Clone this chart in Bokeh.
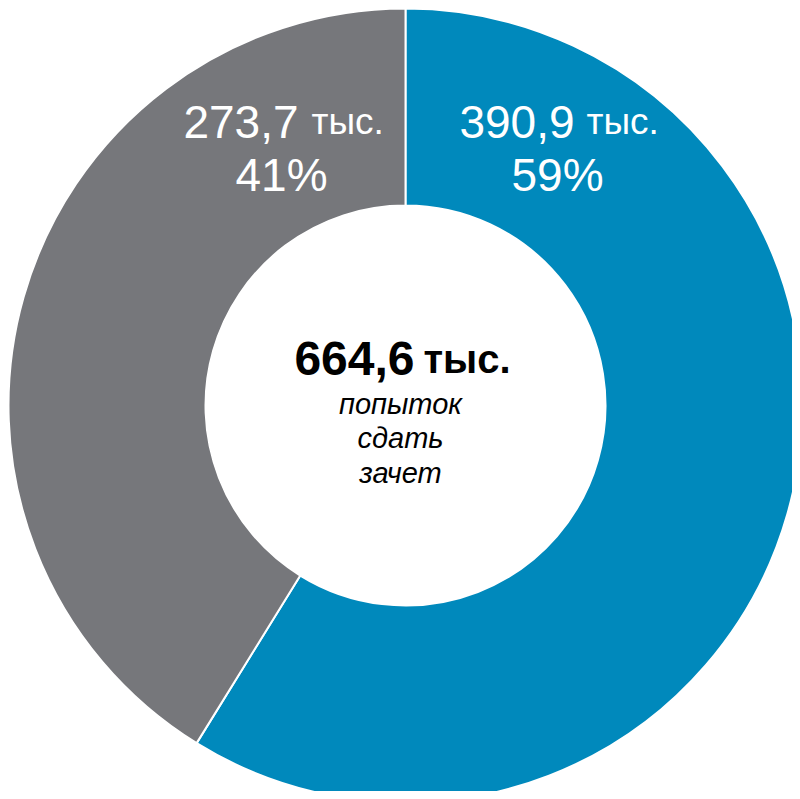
import math
from bokeh.plotting import figure
from bokeh.models import ColumnDataSource
from bokeh.embed import file_html
from bokeh.resources import INLINE
from bokeh.core.properties import value

# ---- data ----
categories = ["Сдали", "Не сдали"]
values = [390.9, 273.7]
value_labels = ["390,9", "273,7"]
percent_labels = ["59%", "41%"]
unit_label = "тыс."
total_label = "664,6"
center_lines = ["попыток", "сдать", "зачет"]
colors = ["#0089BC", "#76777B"]

W, H = 792, 791
p = figure(width=W, height=H, x_range=(0, W), y_range=(0, H),
           output_backend="svg", toolbar_location=None, min_border=0)
p.axis.visible = False
p.grid.visible = False
p.outline_line_color = None
p.background_fill_color = "white"
p.border_fill_color = "white"

cx, cy = 405, 386
total = sum(values)
starts, ends = [], []
cum = 0.0
for v in values:
    ends.append(math.pi / 2 - cum / total * 2 * math.pi)
    cum += v
    starts.append(math.pi / 2 - cum / total * 2 * math.pi)

src = ColumnDataSource(dict(cat=categories, val=values, start=starts, end=ends, color=colors))
p.annular_wedge(x=cx, y=cy, inner_radius=200, outer_radius=397,
                start_angle="start", end_angle="end", fill_color="color",
                line_color="white", line_width=2, source=src)

font = value("Liberation Sans")
# slice labels: number, unit, percent
num_x = [574, 298]
unit_x = [586, 311]
pct_x = [557, 281]
base1, base2 = 670, 617
p.text(x=num_x, y=[base1] * 2, text=value_labels, text_align="right",
       text_baseline="alphabetic", text_color="white", text_font=font,
       text_font_size="46px")
p.text(x=unit_x, y=[base1] * 2, text=[unit_label] * 2, text_align="left",
       text_baseline="alphabetic", text_color="white", text_font=font,
       text_font_size="37px")
p.text(x=pct_x, y=[base2] * 2, text=percent_labels, text_align="center",
       text_baseline="alphabetic", text_color="white", text_font=font,
       text_font_size="46px")

# center labels
p.text(x=[414], y=[433], text=[total_label], text_align="right",
       text_baseline="alphabetic", text_color="black", text_font=font,
       text_font_size="48px", text_font_style="bold")
p.text(x=[423], y=[433], text=[unit_label], text_align="left",
       text_baseline="alphabetic", text_color="black", text_font=font,
       text_font_size="40px", text_font_style="bold")
p.text(x=[400] * 3, y=[388, 354, 319], text=center_lines, text_align="center",
       text_baseline="alphabetic", text_color="black", text_font=font,
       text_font_size="29px", text_font_style="italic")

open("out.html", "w").write(file_html(p, INLINE))
